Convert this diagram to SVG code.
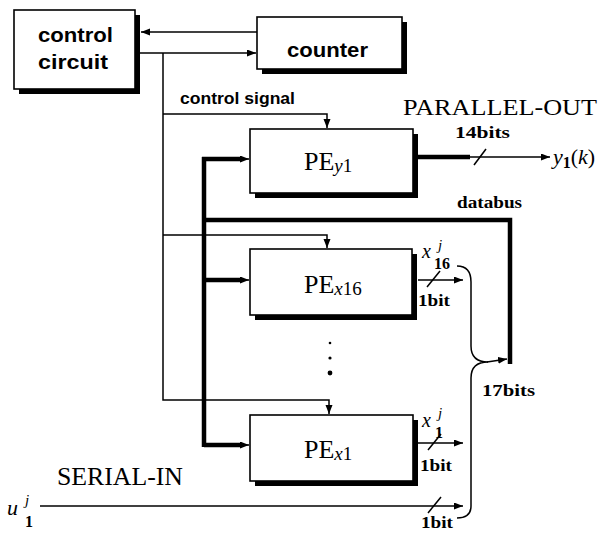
<svg xmlns="http://www.w3.org/2000/svg" width="608" height="533" viewBox="0 0 608 533">
<style>
.box{fill:#fff;stroke:#000;stroke-width:1.6}
.sh{fill:#000}
.thin{fill:none;stroke:#000;stroke-width:1.5}
.bus{fill:none;stroke:#000;stroke-width:4.5}
.sans{font-family:"Liberation Sans",Arial,sans-serif;font-weight:bold;fill:#000}
.serif{font-family:"Liberation Serif","Times New Roman",serif;fill:#000}
.lbl{font-family:"Liberation Serif","Times New Roman",serif;font-weight:bold;font-size:17px;fill:#000}
.it{font-style:italic}
</style>
<defs>
<marker id="ah" markerUnits="userSpaceOnUse" markerWidth="10" markerHeight="8" refX="9" refY="3.5" orient="auto">
<path d="M0,0 L9,3.5 L0,7 Z" fill="#000"/>
</marker>
</defs>
<rect width="608" height="533" fill="#fff"/>

<g id="connectors">
<line class="thin" x1="257" y1="32" x2="141" y2="32" marker-end="url(#ah)"/>
<line class="thin" x1="140" y1="53" x2="256" y2="53" marker-end="url(#ah)"/>
<polyline class="thin" points="163,53 163,400 329,400 329,414" marker-end="url(#ah)"/>
<polyline class="thin" points="163,114 327,114 327,128" marker-end="url(#ah)"/>
<polyline class="thin" points="163,235 327,235 327,248" marker-end="url(#ah)"/>
<line class="bus" x1="204" y1="157" x2="204" y2="447"/>
<line class="bus" x1="202" y1="159" x2="242" y2="159"/>
<line class="thin" x1="240" y1="159" x2="249" y2="159" marker-end="url(#ah)"/>
<line class="bus" x1="204" y1="280" x2="242" y2="280"/>
<line class="thin" x1="240" y1="280" x2="249" y2="280" marker-end="url(#ah)"/>
<line class="bus" x1="204" y1="445" x2="242" y2="445"/>
<line class="thin" x1="240" y1="445" x2="249" y2="445" marker-end="url(#ah)"/>
<polyline class="bus" points="204,220 510,220 510,364"/>
<line class="bus" x1="418" y1="157" x2="470" y2="157"/>
<line class="thin" x1="468" y1="157" x2="550" y2="157" marker-end="url(#ah)"/>
<line class="thin" x1="474" y1="165" x2="486" y2="149"/>
<line class="thin" x1="418" y1="280" x2="463" y2="280" marker-end="url(#ah)"/>
<line class="thin" x1="427" y1="287" x2="440" y2="271"/>
<line class="thin" x1="418" y1="443" x2="463" y2="443" marker-end="url(#ah)"/>
<line class="thin" x1="428" y1="450" x2="441" y2="434"/>
<line class="thin" x1="40" y1="506" x2="463" y2="506" marker-end="url(#ah)"/>
<line class="thin" x1="428" y1="513" x2="441" y2="497"/>
<path class="thin" d="M457,266 Q471,266 471,282 L471,346 Q471,362 488,362 Q471,362 471,378 L471,506 Q471,518 457,518"/>
<line class="thin" x1="487" y1="362" x2="507" y2="359" marker-end="url(#ah)"/>
<circle cx="330" cy="343" r="1.3" fill="#000"/>
<circle cx="330" cy="358" r="1.6" fill="#000"/>
<circle cx="330" cy="373" r="2.4" fill="#000"/>
</g>

<g id="control-circuit">
<rect class="sh" x="19" y="15" width="121" height="79"/>
<rect class="box" x="14" y="10" width="121" height="79"/>
<text class="sans" x="38" y="42" font-size="21" textLength="75" lengthAdjust="spacingAndGlyphs">control</text>
<text class="sans" x="38" y="69" font-size="21" textLength="70" lengthAdjust="spacingAndGlyphs">circuit</text>
</g>

<g id="counter">
<rect class="sh" x="262" y="22" width="145" height="52"/>
<rect class="box" x="257" y="17" width="145" height="52"/>
<text class="sans" x="287" y="57" font-size="21" textLength="81" lengthAdjust="spacingAndGlyphs">counter</text>
</g>

<g id="pe-y1">
<rect class="sh" x="255" y="134" width="163" height="64"/>
<rect class="box" x="250" y="129" width="163" height="64"/>
<text class="serif" x="304" y="170" font-size="26">PE<tspan class="it" font-size="19" dy="2">y</tspan><tspan font-size="19">1</tspan></text>
</g>

<g id="pe-x16">
<rect class="sh" x="255" y="254" width="162" height="66"/>
<rect class="box" x="250" y="249" width="162" height="66"/>
<text class="serif" x="304" y="293" font-size="26">PE<tspan class="it" font-size="19" dy="2">x</tspan><tspan font-size="19">16</tspan></text>
</g>

<g id="pe-x1">
<rect class="sh" x="255" y="420" width="163" height="66"/>
<rect class="box" x="250" y="415" width="163" height="66"/>
<text class="serif" x="304" y="458" font-size="26">PE<tspan class="it" font-size="19" dy="2">x</tspan><tspan font-size="19">1</tspan></text>
</g>

<g id="labels">
<text class="sans" x="180" y="104" font-size="16" textLength="115" lengthAdjust="spacingAndGlyphs">control signal</text>
<text class="serif" x="403" y="115" font-size="24" textLength="194" lengthAdjust="spacingAndGlyphs">PARALLEL-OUT</text>
<text class="serif" x="57" y="485" font-size="25" textLength="126" lengthAdjust="spacingAndGlyphs">SERIAL-IN</text>
<text class="lbl" x="455" y="138" textLength="55" lengthAdjust="spacingAndGlyphs">14bits</text>
<text class="lbl" x="457" y="208" textLength="65" lengthAdjust="spacingAndGlyphs">databus</text>
<text class="lbl" x="418" y="306" textLength="32" lengthAdjust="spacingAndGlyphs">1bit</text>
<text class="lbl" x="482" y="396" textLength="53" lengthAdjust="spacingAndGlyphs">17bits</text>
<text class="lbl" x="420" y="471" textLength="32" lengthAdjust="spacingAndGlyphs">1bit</text>
<text class="lbl" x="421" y="528" font-size="16" textLength="32" lengthAdjust="spacingAndGlyphs">1bit</text>
<text class="serif" x="553" y="164" font-size="22"><tspan class="it">y</tspan><tspan font-size="16" font-weight="bold" dy="4">1</tspan><tspan dy="-4">(</tspan><tspan class="it">k</tspan>)</text>
<text class="serif it" x="422" y="258" font-size="20">x</text>
<text class="serif it" x="438" y="250" font-size="15">j</text>
<text class="serif" x="434" y="269" font-size="16" font-weight="bold">16</text>
<text class="serif it" x="422" y="427" font-size="20">x</text>
<text class="serif it" x="438" y="418" font-size="15">j</text>
<text class="serif" x="435" y="438" font-size="16" font-weight="bold">1</text>
<text class="serif it" x="7" y="515" font-size="22">u</text>
<text class="serif it" x="25" y="505" font-size="15">j</text>
<text class="serif" x="25" y="527" font-size="16" font-weight="bold">1</text>
</g>
</svg>
